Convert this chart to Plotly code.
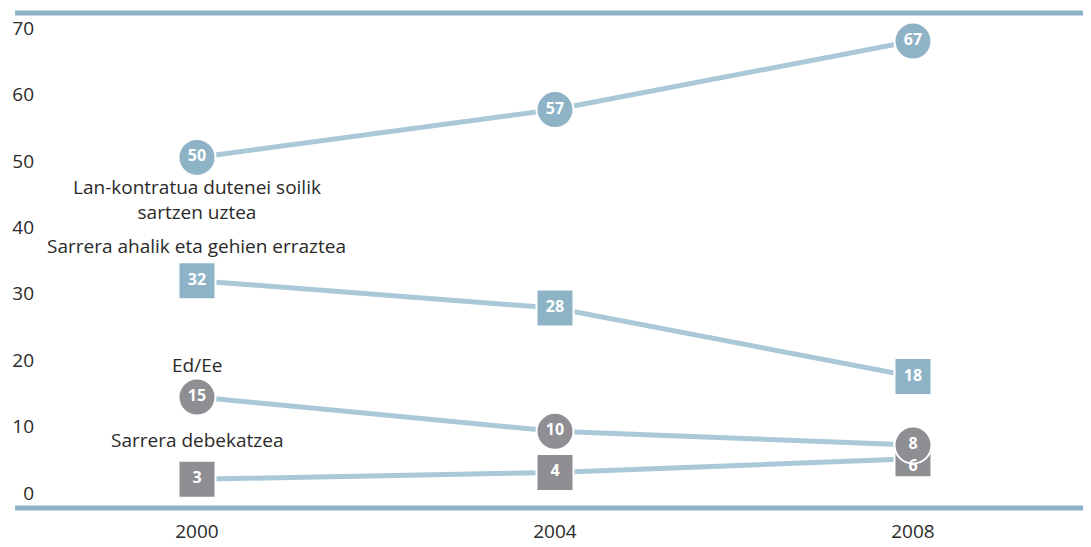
import plotly.graph_objects as go

years = [2000, 2004, 2008]

# survey answers (%)
lan_kontratua = [50, 57, 67]
ahalik_erraztea = [32, 28, 18]
ed_ee = [15, 10, 8]
debekatzea = [3, 4, 6]

y_ticks = [0, 10, 20, 30, 40, 50, 60, 70]

line_col = '#aac8d7'
blue = '#8fb3c6'
grey = '#8e8e93'
font = 'Open Sans'

series = [
    (lan_kontratua, 'circle', blue),
    (ahalik_erraztea, 'square', blue),
    (debekatzea, 'square', grey),
    (ed_ee, 'circle', grey),
]

fig = go.Figure()

# lines first so every marker sits on top of them
for vals, sym, col in series:
    fig.add_trace(go.Scatter(x=years, y=vals, mode='lines',
                             line=dict(color=line_col, width=5),
                             hoverinfo='skip', showlegend=False))

for vals, sym, col in series:
    fig.add_trace(go.Scatter(x=years, y=vals, mode='markers',
                             marker=dict(symbol=sym, size=37, color=col,
                                         line=dict(color='white', width=2)),
                             showlegend=False))

# value labels last so none of them get hidden
# (the 6 box sits under the 8 circle, so its number goes to the lower half)
for vals, sym, col in series:
    pos = ['middle center'] * len(vals)
    if vals is debekatzea:
        pos[-1] = 'bottom center'
    fig.add_trace(go.Scatter(x=years, y=vals, mode='text',
                             text=[str(v) for v in vals],
                             textposition=pos,
                             textfont=dict(family=font, size=16, color='white', weight='bold'),
                             hoverinfo='skip', showlegend=False))

# empty trace so the label axis (y2) actually gets drawn
fig.add_trace(go.Scatter(x=[None], y=[None], yaxis='y2', mode='lines',
                         hoverinfo='skip', showlegend=False))

lbl = dict(family=font, size=19, color='#2a2a2a')
fig.add_annotation(x=2000, y=43.9, text='Lan-kontratua dutenei soilik<br>sartzen uztea',
                   showarrow=False, font=lbl, xanchor='center', align='center')
fig.add_annotation(x=2000, y=37.1, text='Sarrera ahalik eta gehien erraztea',
                   showarrow=False, font=lbl, xanchor='center')
fig.add_annotation(x=2000, y=19.7, text='Ed/Ee', showarrow=False, font=lbl, xanchor='center')
fig.add_annotation(x=2000, y=8.7, text='Sarrera debekatzea', showarrow=False, font=lbl, xanchor='center')

# thick top / bottom rules, running a bit left of the plot area
for yy in [0, 1]:
    fig.add_shape(type='line', xref='paper', yref='paper', x0=-0.0189, x1=1, y0=yy, y1=yy,
                  line=dict(color=blue, width=5))

# page body has an 8px margin, so the figure is 8px smaller than the window
fig.update_layout(
    width=1083, height=539,
    margin=dict(l=27, r=0, t=5, b=39),
    plot_bgcolor='white', paper_bgcolor='white',
    font=dict(family=font, color='#2a2a2a'),
    xaxis=dict(range=[1998.19, 2009.989], tickvals=years, ticktext=[str(y) for y in years],
               showgrid=False, zeroline=False, showline=False,
               ticks='outside', ticklen=6, tickcolor='rgba(0,0,0,0)',
               tickfont=dict(size=19, color='#2a2a2a')),
    yaxis=dict(range=[-1.2, 71.1], showgrid=False, zeroline=False,
               showline=False, ticks='', showticklabels=False),
    # the scale labels in the original sit a little inside the two rules
    yaxis2=dict(range=[-2.26, 72.26], overlaying='y', side='left', anchor='x',
                tickvals=y_ticks, showgrid=False, zeroline=False, showline=False,
                ticks='', ticklabeloverflow='allow',
                tickfont=dict(size=19, color='#2a2a2a')),
)

fig.write_html('out.html')
